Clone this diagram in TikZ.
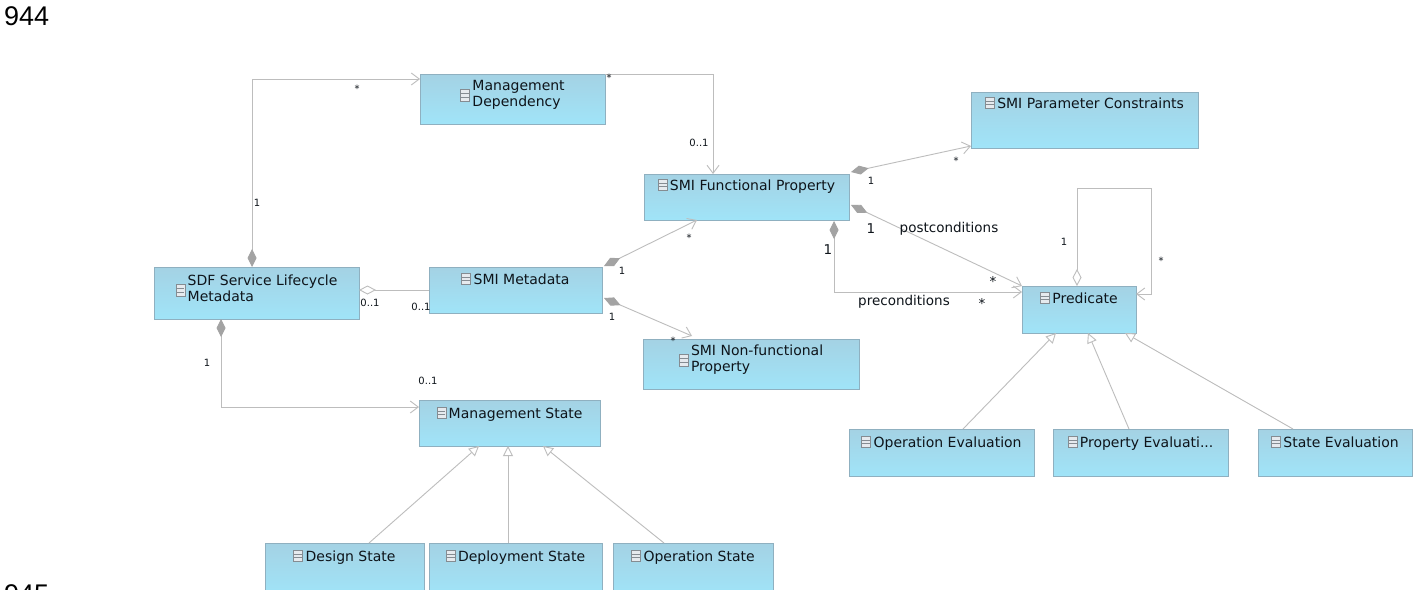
\documentclass[tikz,border=0pt]{standalone}
\usepackage{fontspec}
\setmainfont{DejaVu Sans}
\newfontfamily\pagenumfont{Liberation Sans}
\usetikzlibrary{arrows.meta,calc}

\definecolor{boxtop}{HTML}{A4D2E4}
\definecolor{boxbot}{HTML}{A0E4F8}
\definecolor{boxedge}{HTML}{8FB0C0}
\definecolor{linec}{HTML}{BDBDBD}
\definecolor{diam}{HTML}{A3A3A3}
\definecolor{txt}{HTML}{0E141A}
\definecolor{icoedge}{HTML}{858C92}
\definecolor{icofill}{HTML}{E6EAEE}

% small class glyph in front of each class name
\newcommand\clsico{\tikz[x=1pt,y=1pt,baseline=0pt]{%
  \draw[icoedge,fill=icofill,line width=0.7pt] (0,-0.5) rectangle (9,11);
  \draw[icoedge,line width=0.6pt] (0.5,3.4) -- (8.5,3.4) (0.5,7) -- (8.5,7);}}
\newcommand\oneline[1]{\clsico\hspace{2.5pt}#1}
\newcommand\twoline[2]{$\vcenter{\hbox{\clsico}}$\hspace{2.5pt}%
  $\vcenter{\hbox{\begin{tabular}{@{}l@{}}#1\\#2\end{tabular}}}$}

\tikzset{
  cls/.style={draw=boxedge, line width=0.8pt, top color=boxtop, bottom color=boxbot,
    inner sep=0pt, outer sep=0pt, anchor=north west},
  cname/.style={inner sep=0pt, text=txt, font=\fontsize{14}{16}\selectfont},
  conn/.style={draw=linec, line width=0.9pt},
  mult/.style={inner sep=0pt, text=txt, font=\fontsize{10}{11}\selectfont},
  multb/.style={inner sep=0pt, text=txt, font=\fontsize{13.5}{15}\selectfont},
  pgnum/.style={inner sep=0pt, anchor=base west, font=\pagenumfont\fontsize{27}{30}\selectfont},
  comp/.tip={Diamond[length=18pt,width=9pt,color=diam]},
  aggr/.tip={Diamond[open,length=17pt,width=9pt,fill=white,color=linec]},
  nav/.tip={Straight Barb[length=8pt,width=12pt,color=linec]},
  gen/.tip={Triangle[open,length=10pt,width=10pt,fill=white,color=linec]},
}

\begin{document}
\begin{tikzpicture}[x=1pt,y=-1pt]
\useasboundingbox (0,0) rectangle (1416,589);
\clip (0,0) rectangle (1416,589);
\fill[white] (0,0) rectangle (1416,589);

% page numbers
\node[pgnum] (pgA) at (4,25) {944};
\node[pgnum] (pgB) at (4,603) {945};

% classes
\node[cls, minimum width=185pt, minimum height=50pt] (md)   at (420,74)  {};
\node[cls, minimum width=227pt, minimum height=56pt] (spc)  at (971,92)  {};
\node[cls, minimum width=205pt, minimum height=46pt] (sfp)  at (644,174) {};
\node[cls, minimum width=114pt, minimum height=47pt] (pred) at (1022,286) {};
\node[cls, minimum width=205pt, minimum height=52pt] (sdf)  at (154,267) {};
\node[cls, minimum width=173pt, minimum height=46pt] (smim) at (429,267) {};
\node[cls, minimum width=216pt, minimum height=50pt] (nfp)  at (643,339) {};
\node[cls, minimum width=181pt, minimum height=46pt] (ms)   at (419,400) {};
\node[cls, minimum width=159pt, minimum height=52pt] (ds)   at (265,543) {};
\node[cls, minimum width=173pt, minimum height=52pt] (dps)  at (429,543) {};
\node[cls, minimum width=160pt, minimum height=52pt] (os)   at (613,543) {};
\node[cls, minimum width=185pt, minimum height=47pt] (oe)   at (849,429) {};
\node[cls, minimum width=175pt, minimum height=47pt] (pe)   at (1053,429) {};
\node[cls, minimum width=154pt, minimum height=47pt] (se)   at (1258,429) {};

% class names
\node[cname, anchor=north] (tmd)  at ([yshift=-5pt]md.north)  {\twoline{Management}{Dependency}};
\node[cname, anchor=base]  (tspc) at ([yshift=-16pt]spc.north) {\oneline{SMI Parameter Constraints}};
\node[cname, anchor=base]  (tsfp) at ([yshift=-16pt]sfp.north) {\oneline{SMI Functional Property}};
\node[cname, anchor=base]  (tpr)  at ([yshift=-17pt]pred.north) {\oneline{Predicate}};
\node[cname, anchor=north] (tsdf) at ([yshift=-7pt]sdf.north) {\twoline{SDF Service Lifecycle}{Metadata}};
\node[cname, anchor=base]  (tsm)  at ([yshift=-17pt]smim.north) {\oneline{SMI Metadata}};
\node[cname, anchor=north] (tnfp) at ([yshift=-5pt]nfp.north) {\twoline{SMI Non-functional}{Property}};
\node[cname, anchor=base]  (tms)  at ([yshift=-18pt]ms.north) {\oneline{Management State}};
\node[cname, anchor=base]  (tds)  at ([yshift=-18pt]ds.north) {\oneline{Design State}};
\node[cname, anchor=base]  (tdps) at ([yshift=-18pt]dps.north) {\oneline{Deployment State}};
\node[cname, anchor=base]  (tos)  at ([yshift=-18pt]os.north) {\oneline{Operation State}};
\node[cname, anchor=base]  (toe)  at ([yshift=-18pt]oe.north) {\oneline{Operation Evaluation}};
\node[cname, anchor=base]  (tpe)  at ([yshift=-18pt]pe.north) {\oneline{Property Evaluati...}};
\node[cname, anchor=base]  (tse)  at ([yshift=-18pt]se.north) {\oneline{State Evaluation}};

% associations
\draw[conn, comp-nav] ([xshift=-4.5pt]sdf.north) |- ([yshift=-5pt]md.north west);
\draw[conn, -nav] (md.north east) -| ([xshift=-33.5pt]sfp.north);
\draw[conn, comp-nav] ([xshift=2pt,yshift=1pt]smim.north east) -- ([xshift=-49.5pt]sfp.south);
\draw[conn, comp-nav] ([xshift=2pt,yshift=2pt]sfp.north east) -- ([yshift=2pt]spc.south west);
\draw[conn, comp-nav] ([xshift=2pt,yshift=-8pt]sfp.east) -- (pred.north west);
\draw[conn, comp-nav] ([xshift=87.5pt,yshift=-1pt]sfp.south) |- ([yshift=17.5pt]pred.west);
\draw[conn, aggr-nav] ([xshift=-2pt]pred.north) -- ++(0,-98) -- ++(74,0) |- ([yshift=15.5pt]pred.east);
\draw[conn, aggr-] ([yshift=3pt]sdf.east) -- (smim.west);
\draw[conn, comp-nav] ([xshift=2pt,yshift=-8pt]smim.east) -- ([xshift=-59pt,yshift=3pt]nfp.north);
\draw[conn, comp-nav] ([xshift=-35.5pt]sdf.south) |- ([yshift=16pt]ms.west);

% generalizations
\draw[conn, -gen] ([xshift=24.5pt]ds.north) -- ([xshift=-30.5pt]ms.south);
\draw[conn, -gen] ([xshift=-7.5pt]dps.north) -- ([xshift=-1.5pt]ms.south);
\draw[conn, -gen] ([xshift=-29pt]os.north) -- ([xshift=33.5pt]ms.south);
\draw[conn, -gen] ([xshift=21.5pt]oe.north) -- ([xshift=-23pt]pred.south);
\draw[conn, -gen] ([xshift=-11.5pt]pe.north) -- ([xshift=9pt]pred.south);
\draw[conn, -gen] ([xshift=-42pt]se.north) -- ([xshift=46pt]pred.south);

% multiplicities and role names
\node[mult] (m1)  at (257,203) {1};
\node[mult] (m2)  at (357,89)  {*};
\node[mult] (m3)  at (609,78)  {*};
\node[mult] (m4)  at (699,143) {0..1};
\node[mult] (m5)  at (622,271) {1};
\node[mult] (m6)  at (689,238) {*};
\node[mult] (m7)  at (871,181) {1};
\node[mult] (m8)  at (956,161) {*};
\node[multb] (m9)  at (871,229) {1};
\node[multb] (r1)  at (949,229) {postconditions};
\node[multb] (m10) at (993,281) {*};
\node[multb] (m11) at (828,250) {1};
\node[multb] (r2)  at (904,302) {preconditions};
\node[multb] (m12) at (982,303) {*};
\node[mult] (m13) at (1064,242) {1};
\node[mult] (m14) at (1161,261) {*};
\node[mult] (m15) at (370,303) {0..1};
\node[mult] (m16) at (421,307) {0..1};
\node[mult] (m17) at (612,317) {1};
\node[mult] (m18) at (673,341) {*};
\node[mult] (m19) at (207,363) {1};
\node[mult] (m20) at (428,381) {0..1};
\end{tikzpicture}
\end{document}
